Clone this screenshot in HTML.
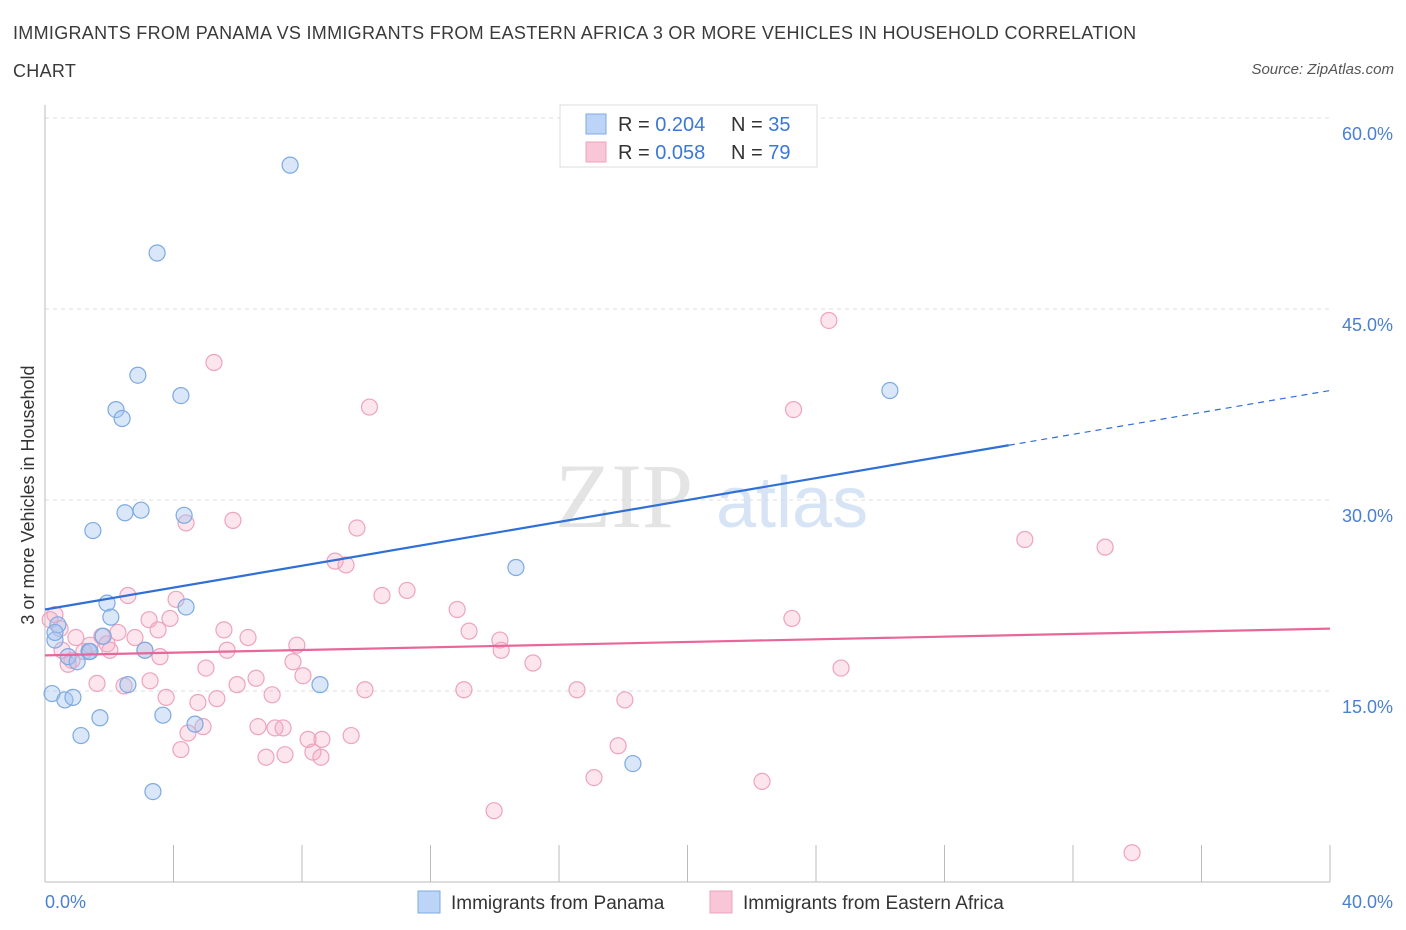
<!DOCTYPE html>
<html><head><meta charset="utf-8"><style>
body{margin:0;background:#fff;font-family:"Liberation Sans",sans-serif;}
#wrap{position:relative;width:1406px;height:930px;overflow:hidden;}
.t{position:absolute;}
</style></head><body>
<div id="wrap">
<div class="t" style="left:13px;top:14px;font-size:18px;letter-spacing:0.3px;color:#3a3a3a;line-height:38px;width:1160px;">IMMIGRANTS FROM PANAMA VS IMMIGRANTS FROM EASTERN AFRICA 3 OR MORE VEHICLES IN HOUSEHOLD CORRELATION CHART</div>
<div class="t" style="right:12px;top:61px;font-size:15px;font-style:italic;color:#555;">Source: ZipAtlas.com</div>
<svg id="chart" width="1406" height="930" style="position:absolute;left:0;top:0"></svg>
</div>
<script>
const yTicks=[15,30,45,60];
const yTickLabels=["15.0%","30.0%","45.0%","60.0%"];
const xTickLabels=["0.0%","40.0%"];
const blueX=[7.63,3.49,2.89,4.23,2.21,2.40,26.3,1.49,2.49,2.99,4.33,14.66,1.93,4.39,2.05,0.40,0.31,1.81,3.11,1.37,0.72,1.00,0.22,0.62,0.87,2.58,8.56,1.71,3.67,4.67,1.12,18.3,3.36,0.31,1.40];
const blueY=[56.3,49.4,39.8,38.2,37.1,36.4,38.6,27.6,29.0,29.2,28.8,24.7,21.9,21.6,20.8,20.2,19.0,19.3,18.2,18.1,17.7,17.3,14.8,14.3,14.5,15.5,15.5,12.9,13.1,12.4,11.5,9.3,7.1,19.6,18.1];
const pinkX=[24.4,5.26,10.1,23.3,5.85,4.39,9.71,30.5,33.0,9.03,9.37,2.58,11.27,10.49,4.08,12.83,23.25,3.24,3.89,3.52,5.57,13.2,0.31,0.47,2.27,2.80,1.77,0.96,6.32,7.84,14.16,14.2,1.93,1.21,5.67,3.11,0.84,0.72,7.72,15.19,24.78,5.01,8.03,6.57,1.62,3.27,2.46,5.98,9.96,13.04,16.56,3.77,7.07,5.35,4.76,18.05,4.92,4.45,6.63,7.16,7.41,8.19,8.62,9.53,17.84,4.23,8.34,6.88,7.47,8.59,17.09,22.32,13.98,33.84,2.02,0.16,1.40,3.58,0.53];
const pinkY=[44.1,40.8,37.3,37.1,28.4,28.2,27.8,26.9,26.3,25.2,24.9,22.5,22.9,22.5,22.2,21.4,20.7,20.6,20.7,19.8,19.8,19.7,21.0,19.9,19.6,19.2,19.3,19.2,19.2,18.6,19.0,18.2,18.7,18.1,18.2,18.2,17.4,17.1,17.3,17.2,16.8,16.8,16.2,16.0,15.6,15.8,15.4,15.5,15.1,15.1,15.1,14.5,14.7,14.4,14.1,14.3,12.2,11.7,12.2,12.1,12.1,11.2,11.2,11.5,10.7,10.4,10.2,9.8,10.0,9.8,8.2,7.9,5.6,2.3,18.2,20.6,18.6,17.7,18.2];
const blueTrend=[21.4,38.6];
const pinkTrend=[17.8,19.9];
const X0=45,X1=1330,Y0=882,PY=12.733;
const sx=v=>X0+(X1-X0)*v/40;
const sy=v=>Y0-v*PY;
const svg=document.getElementById('chart');
const NS='http://www.w3.org/2000/svg';
function mk(tag,attrs,parent){const e=document.createElementNS(NS,tag);for(const k in attrs)e.setAttribute(k,attrs[k]);(parent||svg).appendChild(e);return e;}
let w1=mk('text',{x:555,y:527,'font-size':92,fill:'#e4e4e4','font-family':'Liberation Serif, serif'});w1.textContent='ZIP';


let w2=mk('text',{x:716,y:527,'font-size':72,fill:'#d6e4f5','font-family':'Liberation Sans, sans-serif'});w2.textContent='atlas';


yTicks.forEach((v,i)=>{
 let g=mk('line',{x1:X0,x2:X1,y1:sy(v),y2:sy(v),stroke:'#ddd','stroke-dasharray':'4,4'});
 
 
 let t=mk('text',{x:1393,y:sy(v)+22,'text-anchor':'end','font-size':18,fill:'#4a80d0'});t.textContent=yTickLabels[i];
 
 
});
let ax=mk('line',{x1:X0,x2:X0,y1:105,y2:Y0,stroke:'#bbb'});


let bx=mk('line',{x1:X0,x2:X1,y1:Y0,y2:Y0,stroke:'#bbb'});


for(let i=0;i<=10;i++){let l=mk('line',{x1:sx(i*4),x2:sx(i*4),y1:845,y2:Y0,stroke:'#bbb'});
 
 }
[[0,45,'start'],[1,1393,'end']].forEach(a=>{let t=mk('text',{x:a[1],y:908,'text-anchor':a[2],'font-size':18,fill:'#4a80d0'});t.textContent=xTickLabels[a[0]];
 
 });
let yt=mk('text',{x:0,y:0,'font-size':18,fill:'#333',transform:'translate(34,495) rotate(-90)','text-anchor':'middle'});yt.textContent='3 or more Vehicles in Household';


pinkX.forEach((v,i)=>{let c=mk('circle',{cx:sx(v),cy:sy(pinkY[i]),r:8,fill:'rgba(244,170,196,0.3)',stroke:'#eea3be','stroke-width':1.2});
 
 });
blueX.forEach((v,i)=>{let c=mk('circle',{cx:sx(v),cy:sy(blueY[i]),r:8,fill:'rgba(160,196,240,0.4)',stroke:'#7eaae2','stroke-width':1.2});
 
 });
const bAt=x=>blueTrend[0]+(blueTrend[1]-blueTrend[0])*x/40;
let bl=mk('line',{x1:sx(0),y1:sy(bAt(0)),x2:sx(30),y2:sy(bAt(30)),stroke:'#2f6fd6','stroke-width':2.2});


let bd=mk('line',{x1:sx(30),y1:sy(bAt(30)),x2:sx(40),y2:sy(bAt(40)),stroke:'#2f6fd6','stroke-width':1.2,'stroke-dasharray':'6,5'});


let pl=mk('line',{x1:sx(0),y1:sy(pinkTrend[0]),x2:sx(40),y2:sy(pinkTrend[1]),stroke:'#e8679a','stroke-width':2.2});


let lb=mk('rect',{x:560,y:105,width:257,height:62,fill:'#fff',stroke:'#ddd'});


[[0,'#bcd4f5','#7eaae2','0.204','35'],[1,'#f8c6d6','#eea3be','0.058','79']].forEach(a=>{
 const y=114+a[0]*28;
 let r=mk('rect',{x:586,y:y,width:20,height:20,fill:a[1],stroke:a[2]});
 
 
 let t1=mk('text',{x:618,y:y+17,'font-size':20,fill:'#333'});t1.innerHTML='R = <tspan fill="#3a78d6">'+a[3]+'</tspan>';
 
 
 let t2=mk('text',{x:731,y:y+17,'font-size':20,fill:'#333'});t2.innerHTML='N = <tspan fill="#3a78d6">'+a[4]+'</tspan>';
 
 
});
[[418,'#bcd4f5','#7eaae2','Immigrants from Panama'],[710,'#f8c6d6','#eea3be','Immigrants from Eastern Africa']].forEach(a=>{
 let r=mk('rect',{x:a[0],y:891,width:22,height:22,fill:a[1],stroke:a[2]});
 
 
 let t=mk('text',{x:a[0]+33,y:909,'font-size':19,fill:'#333'});t.textContent=a[3];
 
 
});
</script>
</body></html>
